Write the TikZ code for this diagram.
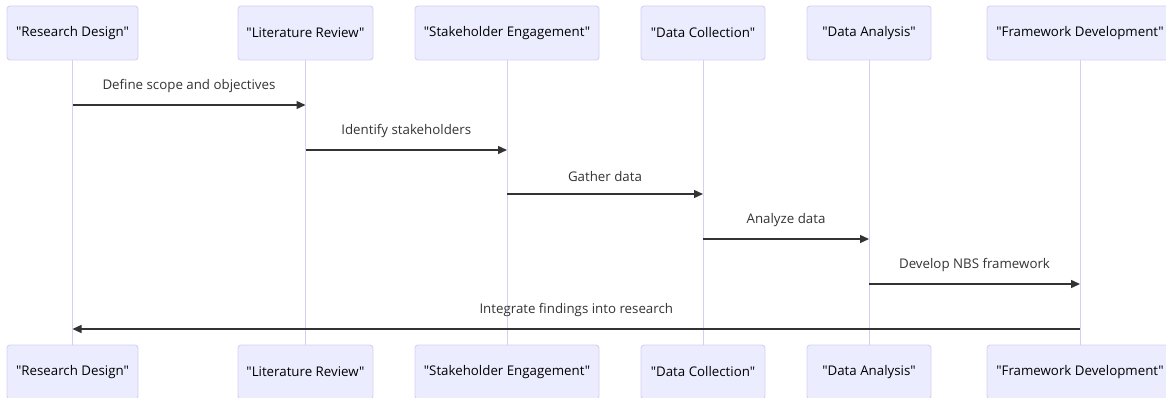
\documentclass[tikz,border=0pt]{standalone}
\usepackage{fontspec}
% a family without the TeX ligature mapping, so that " stays a straight quote
\newfontfamily\diagfont{Open Sans}
\usetikzlibrary{arrows.meta}
\definecolor{actorfill}{HTML}{ECECFF}
\definecolor{actorline}{HTML}{D8CEF2}
\definecolor{msgcol}{HTML}{333333}
\tikzset{
  actor/.style={draw=actorline, fill=actorfill, line width=0.9pt, rounded corners=3pt,
    minimum height=54pt, inner sep=0pt, font=\diagfont\fontsize{13.3}{16}\selectfont, text=black},
  lifeline/.style={draw=actorline, line width=1pt},
  msg/.style={draw=msgcol, line width=1.4pt, -{Triangle[length=9pt,width=8pt]}},
  msglabel/.style={font=\diagfont\fontsize{13.3}{16}\selectfont, text=msgcol, inner sep=0pt}
}
\begin{document}
\begin{tikzpicture}[x=1pt,y=-1pt]
  \useasboundingbox (0,0) rectangle (1166,398);
  \clip (0,0) rectangle (1166,398);
  % participants: top row
  \node[actor, minimum width=131pt] (a1) at (72.5,33) {"Research Design"};
  \node[actor, minimum width=135pt] (a2) at (305.5,33) {"Literature Review"};
  \node[actor, minimum width=184pt] (a3) at (507,33) {"Stakeholder Engagement"};
  \node[actor, minimum width=124pt] (a4) at (703,33) {"Data Collection"};
  \node[actor, minimum width=124pt] (a5) at (869,33) {"Data Analysis"};
  \node[actor, minimum width=186pt] (a6) at (1080,33) {"Framework Development"};
  % participants: bottom row
  \node[actor, minimum width=131pt] (b1) at (72.5,372) {"Research Design"};
  \node[actor, minimum width=135pt] (b2) at (305.5,372) {"Literature Review"};
  \node[actor, minimum width=184pt] (b3) at (507,372) {"Stakeholder Engagement"};
  \node[actor, minimum width=124pt] (b4) at (703,372) {"Data Collection"};
  \node[actor, minimum width=124pt] (b5) at (869,372) {"Data Analysis"};
  \node[actor, minimum width=186pt] (b6) at (1080,372) {"Framework Development"};
  % lifelines
  \foreach \i in {1,...,6} {
    \draw[lifeline] (a\i.south) -- (b\i.north);
  }
  % message end points on the lifelines
  \coordinate (m1s) at (a1.south |- 0,105);
  \coordinate (m1e) at (a2.south |- 0,105);
  \coordinate (m2s) at (a2.south |- 0,150);
  \coordinate (m2e) at (a3.south |- 0,150);
  \coordinate (m3s) at (a3.south |- 0,194);
  \coordinate (m3e) at (a4.south |- 0,194);
  \coordinate (m4s) at (a4.south |- 0,239);
  \coordinate (m4e) at (a5.south |- 0,239);
  \coordinate (m5s) at (a5.south |- 0,284);
  \coordinate (m5e) at (a6.south |- 0,284);
  \coordinate (m6s) at (a6.south |- 0,329);
  \coordinate (m6e) at (a1.south |- 0,329);
  % messages
  \draw[msg] (m1s) -- node[msglabel, above=11.5pt] {Define scope and objectives} (m1e);
  \draw[msg] (m2s) -- node[msglabel, above=11.5pt] {Identify stakeholders} (m2e);
  \draw[msg] (m3s) -- node[msglabel, above=11.5pt] {Gather data} (m3e);
  \draw[msg] (m4s) -- node[msglabel, above=11.5pt] {Analyze data} (m4e);
  \draw[msg] (m5s) -- node[msglabel, above=11.5pt] {Develop NBS framework} (m5e);
  \draw[msg] (m6s) -- node[msglabel, above=11.5pt] {Integrate findings into research} (m6e);
\end{tikzpicture}
\end{document}
